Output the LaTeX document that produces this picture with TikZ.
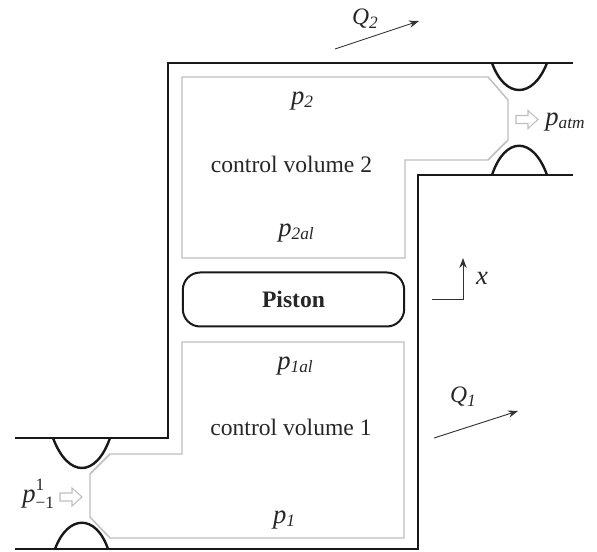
\documentclass[tikz,border=0pt]{standalone}
\usepackage{fontspec}
\setmainfont{Liberation Serif}
\usetikzlibrary{arrows.meta}
\definecolor{wallblack}{RGB}{25,25,25}
\definecolor{cvgray}{RGB}{190,190,190}
\newcommand{\smallfnt}{\fontsize{13}{13}\selectfont}
\newcommand{\bigfnt}{\fontsize{20}{20}\selectfont}
\newcommand{\sublab}[2]{\textit{#1}\raisebox{-2.5pt}{\smallfnt\textit{#2}}}
\begin{document}
\begin{tikzpicture}[
    x=0.75pt, y=-0.75pt,
    wall/.style={line width=2pt, wallblack},
    bump/.style={line width=1.8pt, wallblack},
    cvol/.style={line width=1.1pt, cvgray},
    flowarr/.style={-{Stealth[length=7.5pt,width=5.5pt]}, line width=0.7pt, black!80},
    openarr/.pic={\draw[cvgray, line width=0.8pt, line join=miter]
        (-11,-4) -- (1,-4) -- (1,-9) -- (11,0) -- (1,9) -- (1,4) -- (-11,4) -- cycle;},
    lbl/.style={font=\fontsize{17.7}{20}\selectfont, text=black!85, inner sep=0pt},
    plbl/.style={lbl, font=\bigfnt},
  ]
    \useasboundingbox (0,0) rectangle (597,552);

    % walls
    \draw[wall] (15,438) -- (168,438) -- (168,63) -- (573,63);
    \draw[wall] (15,549) -- (418,549) -- (418,175) -- (573,175);

    % throats
    \draw[bump] (492,63) .. controls (505,99) and (533,99) .. (547,63);
    \draw[bump] (492,175) .. controls (505,136) and (533,136) .. (547,175);
    \draw[bump] (53,438) .. controls (68,478) and (96,478) .. (110,438);
    \draw[bump] (55,549) .. controls (68,514) and (96,514) .. (108,549);

    % control volumes
    \draw[cvol] (182,77) -- (488,77) -- (508,100) -- (508,140) -- (488,160)
      -- (405,160) -- (405,258) -- (182,258) -- cycle;
    \draw[cvol] (182,342) -- (404,342) -- (404,538) -- (110,538) -- (90,517)
      -- (90,474) -- (110,454) -- (182,454) -- cycle;

    \node[lbl, draw=wallblack, line width=1.5pt, rounded corners=13pt, minimum width=166pt,
          minimum height=40.5pt] (piston) at (293.5,299.5) {\textbf{Piston}};

    \node[lbl] (cv2) at (291.5,164) {control volume 2};
    \node[lbl] (cv1) at (291,427) {control volume 1};

    \node[plbl] (ptwo)   at (302,101) {\sublab{p}{2}};
    \node[plbl] (ptwoal) at (296,233) {\sublab{p}{2al}};
    \node[plbl] (ponea)  at (295,366) {\sublab{p}{1al}};
    \node[plbl] (pone)   at (284,520) {\sublab{p}{1}};
    \node[plbl, anchor=west] (patm) at (545,122) {\sublab{p}{atm}};
    \node[plbl, anchor=west] (pin) at (22,494)
      {\textit{p}\rlap{\raisebox{9pt}{\smallfnt 1}}\raisebox{-4pt}{\smallfnt −1}};

    \pic at (71,497) {openarr};
    \pic at (527,119.5) {openarr};

    % flow rates
    \coordinate (qtwoa) at (335,49);
    \coordinate (qtwob) at (419,21);
    \coordinate (qonea) at (434,438);
    \coordinate (qoneb) at (518,411);
    \draw[flowarr] (qtwoa) -- (qtwob);
    \draw[flowarr] (qonea) -- (qoneb);
    \node[lbl] (qtwo) at (365,19) {\sublab{Q}{2}};
    \node[lbl] (qone) at (463,397) {\sublab{Q}{1}};

    % axis
    \coordinate (axa) at (432,299);
    \coordinate (axb) at (463,299);
    \coordinate (axc) at (463,258);
    \draw[flowarr] (axa) -- (axb) -- (axc);
    \node[plbl] (xlab) at (482,278) {\textit{x}};
  \end{tikzpicture}
\end{document}
